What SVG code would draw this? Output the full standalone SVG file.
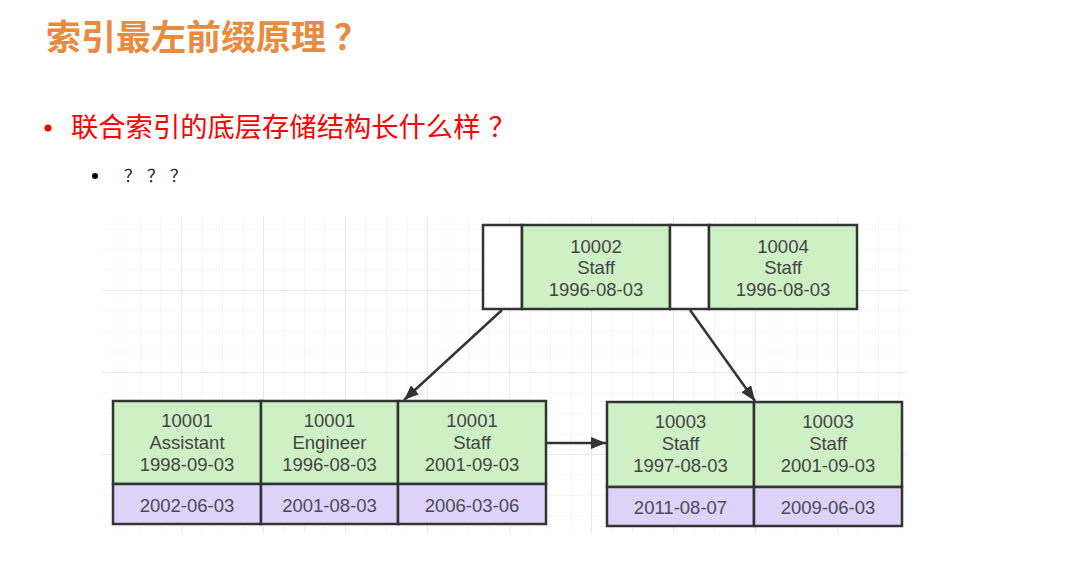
<svg xmlns="http://www.w3.org/2000/svg" width="1080" height="569" viewBox="0 0 1080 569">
<defs>
<style>
.cell{stroke:#333;stroke-width:2.5}
.g{fill:#cdf0c5}
.p{fill:#ddd2f7}
.w{fill:#fff}
.t{font-family:"Liberation Sans",Arial,sans-serif;font-size:18.5px;fill:#444;text-anchor:middle}
.pt{fill:#4a4a5a}
.conn{stroke:#333;stroke-width:2.5;fill:none}
</style>
<pattern id="minor" x="17" y="44" width="20.5" height="20.5" patternUnits="userSpaceOnUse">
<path d="M0,0 H20.5 M0,0 V20.5" stroke="#f1f1f1" stroke-width="1.2" fill="none"/>
</pattern>
<pattern id="major" x="17" y="44" width="82" height="82" patternUnits="userSpaceOnUse">
<path d="M0,0 H82 M0,0 V82" stroke="#e6e6e6" stroke-width="1.5" fill="none"/>
</pattern>
<marker id="arr" markerUnits="userSpaceOnUse" markerWidth="16" markerHeight="12" refX="15" refY="6" orient="auto">
<path d="M0,0 L15,6 L0,12 z" fill="#333"/>
</marker>
</defs>
<rect width="1080" height="569" fill="#fff"/>
<g id="grid">
<rect x="102" y="216" width="806" height="317" fill="url(#minor)"/>
<rect x="102" y="216" width="806" height="317" fill="url(#major)"/>
</g>
<g id="heading">
<text x="46" y="50" font-family="'Noto Sans CJK SC',sans-serif" font-size="35" font-weight="bold" fill="#ea8a3f">索引最左前缀原理<tspan dx="8">？</tspan></text>
<circle cx="48" cy="128" r="3.5" fill="#f00"/>
<text x="71" y="137" font-family="'Noto Sans CJK SC',sans-serif" font-size="27.3" fill="#f00">联合索引的底层存储结构长什么样<tspan dx="8">？</tspan></text>
<circle cx="95" cy="176" r="3" fill="#000"/>
<text x="124" y="182" font-family="'Noto Sans CJK SC',sans-serif" font-size="17" letter-spacing="6" fill="#222">？？？</text>
</g>
<g id="root">
<rect class="cell w" x="483" y="225" width="39" height="84"/>
<rect class="cell g" x="522" y="225" width="148" height="84"/>
<rect class="cell w" x="670" y="225" width="39" height="84"/>
<rect class="cell g" x="709" y="225" width="148" height="84"/>
<text class="t" x="596" y="252.5">10002<tspan x="596" y="274">Staff</tspan><tspan x="596" y="295.5">1996-08-03</tspan></text>
<text class="t" x="783" y="252.5">10004<tspan x="783" y="274">Staff</tspan><tspan x="783" y="295.5">1996-08-03</tspan></text>
</g>
<g id="leaf-left">
<rect class="cell g" x="113" y="401" width="148" height="83"/>
<rect class="cell g" x="261" y="401" width="137" height="83"/>
<rect class="cell g" x="398" y="401" width="148" height="83"/>
<rect class="cell p" x="113" y="484" width="148" height="40"/>
<rect class="cell p" x="261" y="484" width="137" height="40"/>
<rect class="cell p" x="398" y="484" width="148" height="40"/>
<text class="t" x="187" y="427">10001<tspan x="187" y="449">Assistant</tspan><tspan x="187" y="471">1998-09-03</tspan></text>
<text class="t" x="329.5" y="427">10001<tspan x="329.5" y="449">Engineer</tspan><tspan x="329.5" y="471">1996-08-03</tspan></text>
<text class="t" x="472" y="427">10001<tspan x="472" y="449">Staff</tspan><tspan x="472" y="471">2001-09-03</tspan></text>
<text class="t pt" x="187" y="512">2002-06-03</text>
<text class="t pt" x="329.5" y="512">2001-08-03</text>
<text class="t pt" x="472" y="512">2006-03-06</text>
</g>
<g id="leaf-right">
<rect class="cell g" x="607" y="402" width="147" height="85"/>
<rect class="cell g" x="754" y="402" width="148" height="85"/>
<rect class="cell p" x="607" y="487" width="147" height="39"/>
<rect class="cell p" x="754" y="487" width="148" height="39"/>
<text class="t" x="680.5" y="428">10003<tspan x="680.5" y="450">Staff</tspan><tspan x="680.5" y="472">1997-08-03</tspan></text>
<text class="t" x="828" y="428">10003<tspan x="828" y="450">Staff</tspan><tspan x="828" y="472">2001-09-03</tspan></text>
<text class="t pt" x="680.5" y="514">2011-08-07</text>
<text class="t pt" x="828" y="514">2009-06-03</text>
</g>
<g id="connectors">
<line class="conn" x1="502" y1="310" x2="404" y2="400" marker-end="url(#arr)"/>
<line class="conn" x1="690" y1="310" x2="755" y2="401" marker-end="url(#arr)"/>
<line class="conn" x1="547" y1="443" x2="606" y2="443" marker-end="url(#arr)"/>
</g>
</svg>
